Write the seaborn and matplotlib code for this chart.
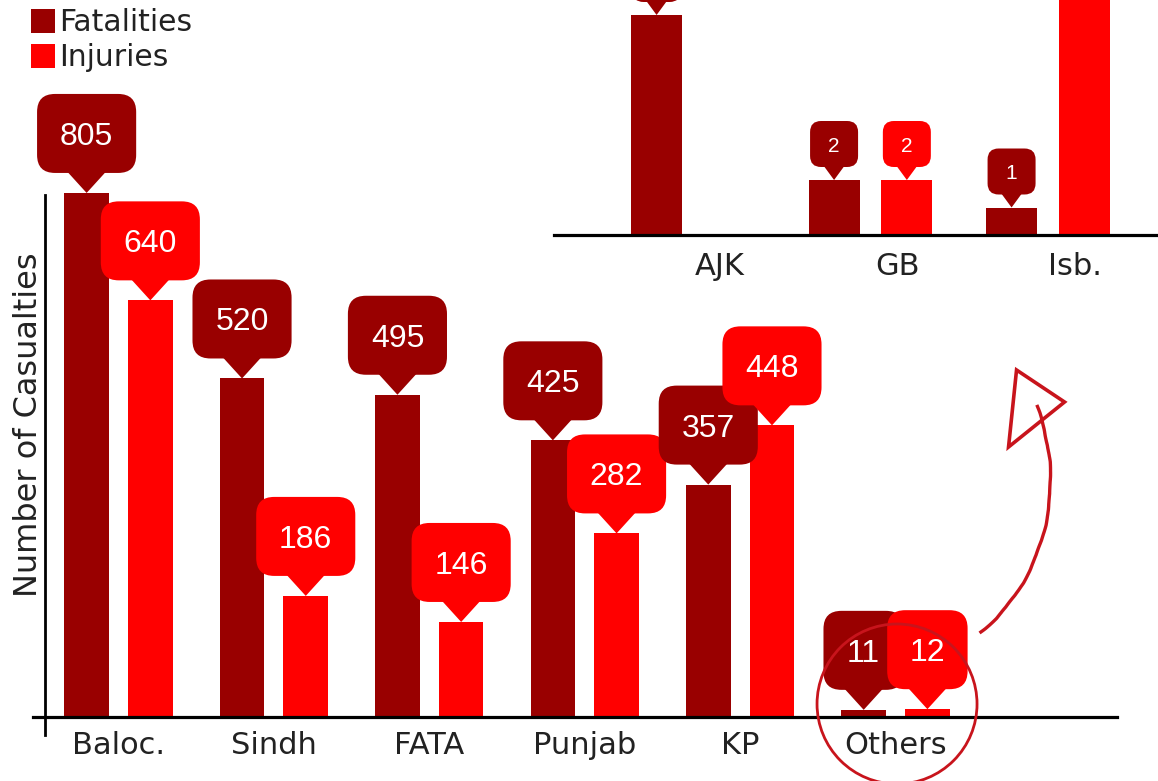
import numpy as np
import pandas as pd
import matplotlib
matplotlib.use("Agg")
import matplotlib.pyplot as plt
import matplotlib.transforms as mtransforms
from matplotlib.patches import FancyBboxPatch, Polygon, Circle, PathPatch
from matplotlib.path import Path
import seaborn as sns

# --- data ---
regions = ["Baloc.", "Sindh", "FATA", "Punjab", "KP", "Others"]
fatalities = [805, 520, 495, 425, 357, 11]
injuries = [640, 186, 146, 282, 448, 12]

other_regions = ["AJK", "GB", "Isb."]
other_fatalities = [8, 2, 1]
other_injuries = [0, 2, 10]

series = ["Fatalities", "Injuries"]
colors = ["#990000", "#ff0000"]
sketch_red = "#c8141c"
text_dark = "#222222"

sns.set_theme(style="white")
plt.rcParams["font.family"] = ["DejaVu Sans"]

W, H = 1158, 781
fig = plt.figure(figsize=(W / 100, H / 100), dpi=100)


def px_axes(left, right, bottom, top):
    # pixel box measured from the top-left corner of the picture
    return fig.add_axes([left / W, 1 - bottom / H, (right - left) / W, (bottom - top) / H])


def callout(ax, x, y, label, color, w, h, gap, tri_w, rad, fs, z):
    # speech bubble pointing down at (x, y), sizes in pixels
    trans = mtransforms.IdentityTransform() + mtransforms.ScaledTranslation(x, y, ax.transData)
    box = FancyBboxPatch((-w / 2, gap), w, h, boxstyle=f"round,pad=0,rounding_size={rad}",
                         transform=trans, fc=color, ec="none", clip_on=False, zorder=z)
    tri = Polygon([(-tri_w / 2, gap + 2), (tri_w / 2, gap + 2), (0, 0)], closed=True,
                  transform=trans, fc=color, ec="none", clip_on=False, zorder=z)
    ax.add_artist(box)
    ax.add_artist(tri)
    ax.text(0, gap + h / 2, label, transform=trans, ha="center", va="center_baseline",
            color="white", fontsize=fs, family=["Liberation Sans", "DejaVu Sans"],
            clip_on=False, zorder=z + 0.1)


def long_form(names, fat, inj):
    return pd.DataFrame({
        "region": names * 2,
        "type": ["Fatalities"] * len(names) + ["Injuries"] * len(names),
        "value": fat + inj,
    })


# --- main chart ---
ax = px_axes(33, 1117, 717, 66)
main_df = long_form(regions, fatalities, injuries)
sns.barplot(data=main_df, x="region", y="value", hue="type", hue_order=series,
            palette=colors, saturation=1, width=0.82, gap=0.3, linewidth=0,
            errorbar=None, ax=ax)
ax.set_xlim(-0.55, 6.425)
ax.set_ylim(0, 1000)
ax.set_facecolor("none")
ax.set_yticks([])
ax.set_xlabel("")
ax.set_ylabel("Number of Casualties", fontsize=23, color=text_dark)
ax.yaxis.set_label_coords((44 - 33) / 1084, (717 - 425) / 651)
ax.tick_params(axis="x", length=0, pad=10, labelsize=22, labelcolor=text_dark)
for s in ["top", "right"]:
    ax.spines[s].set_visible(False)
ax.spines["bottom"].set_color("black")
ax.spines["bottom"].set_linewidth(2.3)
ax.spines["left"].set_color("black")
ax.spines["left"].set_linewidth(2)
ax.spines["left"].set_position(("data", -0.473))
ax.spines["left"].set_bounds(-28, 802)

sns.move_legend(ax, "upper left", bbox_to_anchor=(31 / W, 1 - 8 / H),
                bbox_transform=fig.transFigure, title=None, frameon=False,
                fontsize=21.5, handlelength=0.8, handleheight=0.85,
                handletextpad=0.15, labelspacing=0.2, borderpad=0, borderaxespad=0)
for t in ax.get_legend().get_texts():
    t.set_color(text_dark)

n = len(regions)
for i in range(n):
    for k, (cont, col) in enumerate(zip(ax.containers, colors)):
        bar = cont[i]
        h = bar.get_height()
        label = f"{int(round(h))}"
        box_w = 43 + 18.7 * len(label)
        callout(ax, bar.get_x() + bar.get_width() / 2, h, label, col,
                box_w, 79, 20, 40, 18, 23, 4 + i * 2 + k)

# circle round "Others" and the sketched arrow up to the inset
others_trans = mtransforms.IdentityTransform() + mtransforms.ScaledTranslation(
    regions.index("Others"), 0, ax.transData)
ring = Circle((1.5, 13), 80, transform=others_trans, fill=False, ec=sketch_red,
              lw=2, clip_on=False, zorder=30)
ax.add_artist(ring)

arrow_path = Path([(84, 84), (146, 132), (174, 227), (141, 312)],
                  [Path.MOVETO, Path.CURVE4, Path.CURVE4, Path.CURVE4])
arrow_line = PathPatch(arrow_path, transform=others_trans, fill=False, ec=sketch_red,
                       lw=2.4, clip_on=False, zorder=30)
arrow_line.set_sketch_params(scale=0.5, length=60, randomness=2)
ax.add_artist(arrow_line)
arrow_head = Polygon([(121, 347), (169, 315), (113, 270)], closed=True,
                     transform=others_trans, fill=False, ec=sketch_red, lw=2.6,
                     joinstyle="miter", clip_on=False, zorder=30)
ax.add_artist(arrow_head)

# --- inset: breakdown of "Others" ---
ax2 = px_axes(554, 1158, 235, 0)
inset_df = long_form(other_regions, other_fatalities, other_injuries)
sns.barplot(data=inset_df, x="region", y="value", hue="type", hue_order=series,
            palette=colors, saturation=1, width=0.82, gap=0.3, linewidth=0,
            errorbar=None, legend=False, ax=ax2)
ax2.set_xlim(-0.783, 2.62)
ax2.set_ylim(0, 235 / 27.5)
ax2.set_facecolor("none")
ax2.set_yticks([])
ax2.set_xlabel("")
ax2.set_ylabel("")
ax2.set_xticks(np.arange(len(other_regions)) + 0.15)
ax2.set_xticklabels(other_regions)
ax2.tick_params(axis="x", length=0, pad=12, labelsize=22, labelcolor=text_dark)
for s in ["top", "right", "left"]:
    ax2.spines[s].set_visible(False)
ax2.spines["bottom"].set_color("black")
ax2.spines["bottom"].set_linewidth(2.3)

for i in range(len(other_regions)):
    for k, (cont, col) in enumerate(zip(ax2.containers, colors)):
        bar = cont[i]
        h = bar.get_height()
        if h <= 0:
            continue
        callout(ax2, bar.get_x() + bar.get_width() / 2, h, f"{int(round(h))}", col,
                48, 46, 13, 22, 11, 15, 4 + i * 2 + k)

fig.savefig("out.png", dpi=100, facecolor="white")
